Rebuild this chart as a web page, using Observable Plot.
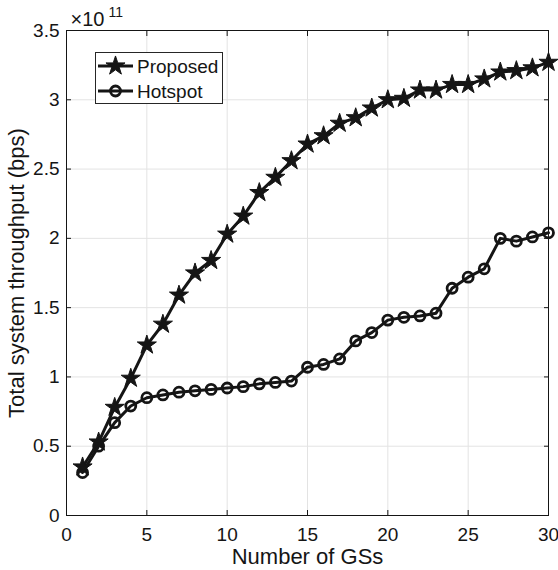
<!DOCTYPE html>
<html>
<head>
<meta charset="utf-8">
<script src="https://cdn.jsdelivr.net/npm/d3@7"></script>
<script src="https://cdn.jsdelivr.net/npm/@observablehq/plot@0.6"></script>
<style>
  html, body { margin: 0; padding: 0; background: #fff; }
  #chart { width: 558px; height: 570px; }
  svg { font-family: "Liberation Sans", Arial, Helvetica, sans-serif; }
</style>
</head>
<body>
<div id="chart"></div>
<script>
// Data (throughput in units of 1e11 bps)
const numGS = [1,2,3,4,5,6,7,8,9,10,11,12,13,14,15,16,17,18,19,20,21,22,23,24,25,26,27,28,29,30];
const proposed = [0.35,0.53,0.78,0.99,1.23,1.38,1.59,1.75,1.84,2.03,2.16,2.33,2.44,2.56,2.68,2.74,2.83,2.87,2.94,3.00,3.01,3.07,3.07,3.11,3.11,3.15,3.20,3.21,3.23,3.27];
const hotspot = [0.31,0.50,0.67,0.79,0.85,0.87,0.89,0.90,0.91,0.92,0.93,0.95,0.96,0.97,1.07,1.09,1.13,1.26,1.32,1.41,1.43,1.44,1.46,1.64,1.72,1.78,2.00,1.98,2.01,2.04];
const xTicks = [0,5,10,15,20,25,30];
const yTicks = [0,0.5,1,1.5,2,2.5,3,3.5];
const seriesNames = ["Proposed", "Hotspot"];
const xLabel = "Number of GSs";
const yLabel = "Total system throughput (bps)";
const expBase = "×10";
const expPower = "11";

const propData = numGS.map((x, i) => ({x, y: proposed[i]}));
const hotData = numGS.map((x, i) => ({x, y: hotspot[i]}));

const ink = "#151515";
const tickFont = 19;
const lineW = 3;
const starR = 6;
const circR = 5;
const circW = 2.8;

const chart = Plot.plot({
  width: 558,
  height: 570,
  marginLeft: 66,
  marginRight: 10,
  marginTop: 30,
  marginBottom: 55,
  style: {fontFamily: '"Liberation Sans", Arial, sans-serif', background: "#fff", overflow: "visible"},
  x: {domain: [0, 30]},
  y: {domain: [0, 3.5]},
  marks: [
    Plot.gridX(xTicks, {stroke: "#e3e3e3", strokeOpacity: 1, strokeWidth: 1}),
    Plot.gridY(yTicks, {stroke: "#e3e3e3", strokeOpacity: 1, strokeWidth: 1}),
    Plot.frame({stroke: ink, strokeWidth: 1}),
    Plot.axisX(xTicks, {anchor: "bottom", tickSize: -5, tickPadding: 17, fontSize: tickFont, fill: ink, stroke: ink, label: null, tickFormat: d3.format("d")}),
    Plot.axisX(xTicks, {anchor: "top", tickSize: -5, tickFormat: () => "", label: null, stroke: ink}),
    Plot.axisY(yTicks, {anchor: "left", tickSize: -5, tickPadding: 12, fontSize: tickFont, fill: ink, stroke: ink, label: null, tickFormat: d => String(d)}),
    Plot.axisY(yTicks, {anchor: "right", tickSize: -5, tickFormat: () => "", label: null, stroke: ink}),
    Plot.line(propData, {x: "x", y: "y", stroke: ink, strokeWidth: lineW}),
    Plot.dot(propData, {x: "x", y: "y", symbol: "star", r: starR, fill: ink, stroke: ink, strokeWidth: 1}),
    Plot.line(hotData, {x: "x", y: "y", stroke: ink, strokeWidth: lineW}),
    Plot.dot(hotData, {x: "x", y: "y", symbol: "circle", r: circR, fill: "none", stroke: ink, strokeWidth: circW}),
    Plot.text([xLabel], {frameAnchor: "bottom", dy: 48, textAnchor: "middle", lineAnchor: "bottom", fontSize: 22, fill: ink}),
    Plot.text([yLabel], {frameAnchor: "left", dx: -43, rotate: -90, textAnchor: "middle", lineAnchor: "bottom", fontSize: 22, fill: ink}),
    Plot.text([expBase], {frameAnchor: "top-left", dx: 4, dy: -5, textAnchor: "start", lineAnchor: "bottom", fontSize: 20, fill: ink}),
    Plot.text([expPower], {frameAnchor: "top-left", dx: 42, dy: -14, textAnchor: "start", lineAnchor: "bottom", fontSize: 14, fill: ink})
  ]
});

document.getElementById("chart").appendChild(chart);

// Legend (drawn inside the plot's SVG)
const svg = d3.select(chart);
const lg = svg.append("g").attr("transform", "translate(95,52)");
lg.append("rect").attr("x", 0.5).attr("y", 0.5).attr("width", 127).attr("height", 51)
  .attr("fill", "#fff").attr("stroke", "#262626").attr("stroke-width", 1);
seriesNames.forEach((name, i) => {
  const cy = 14 + i * 25;
  const row = lg.append("g").attr("transform", `translate(0,${cy})`);
  row.append("line").attr("x1", 3).attr("x2", 38).attr("y1", 0).attr("y2", 0)
    .attr("stroke", ink).attr("stroke-width", lineW);
  if (i === 0) {
    row.append("path").attr("transform", "translate(20.5,0)")
      .attr("d", d3.symbol(d3.symbolStar, Math.PI * starR * starR)())
      .attr("fill", ink).attr("stroke", ink).attr("stroke-width", 1);
  } else {
    row.append("circle").attr("cx", 20.5).attr("cy", 0).attr("r", circR)
      .attr("fill", "none").attr("stroke", ink).attr("stroke-width", circW);
  }
  row.append("text").attr("x", 42).attr("y", 0).attr("dy", "0.35em")
    .attr("text-anchor", "start")
    .attr("font-size", 19).attr("fill", ink).text(name);
});
</script>
</body>
</html>
